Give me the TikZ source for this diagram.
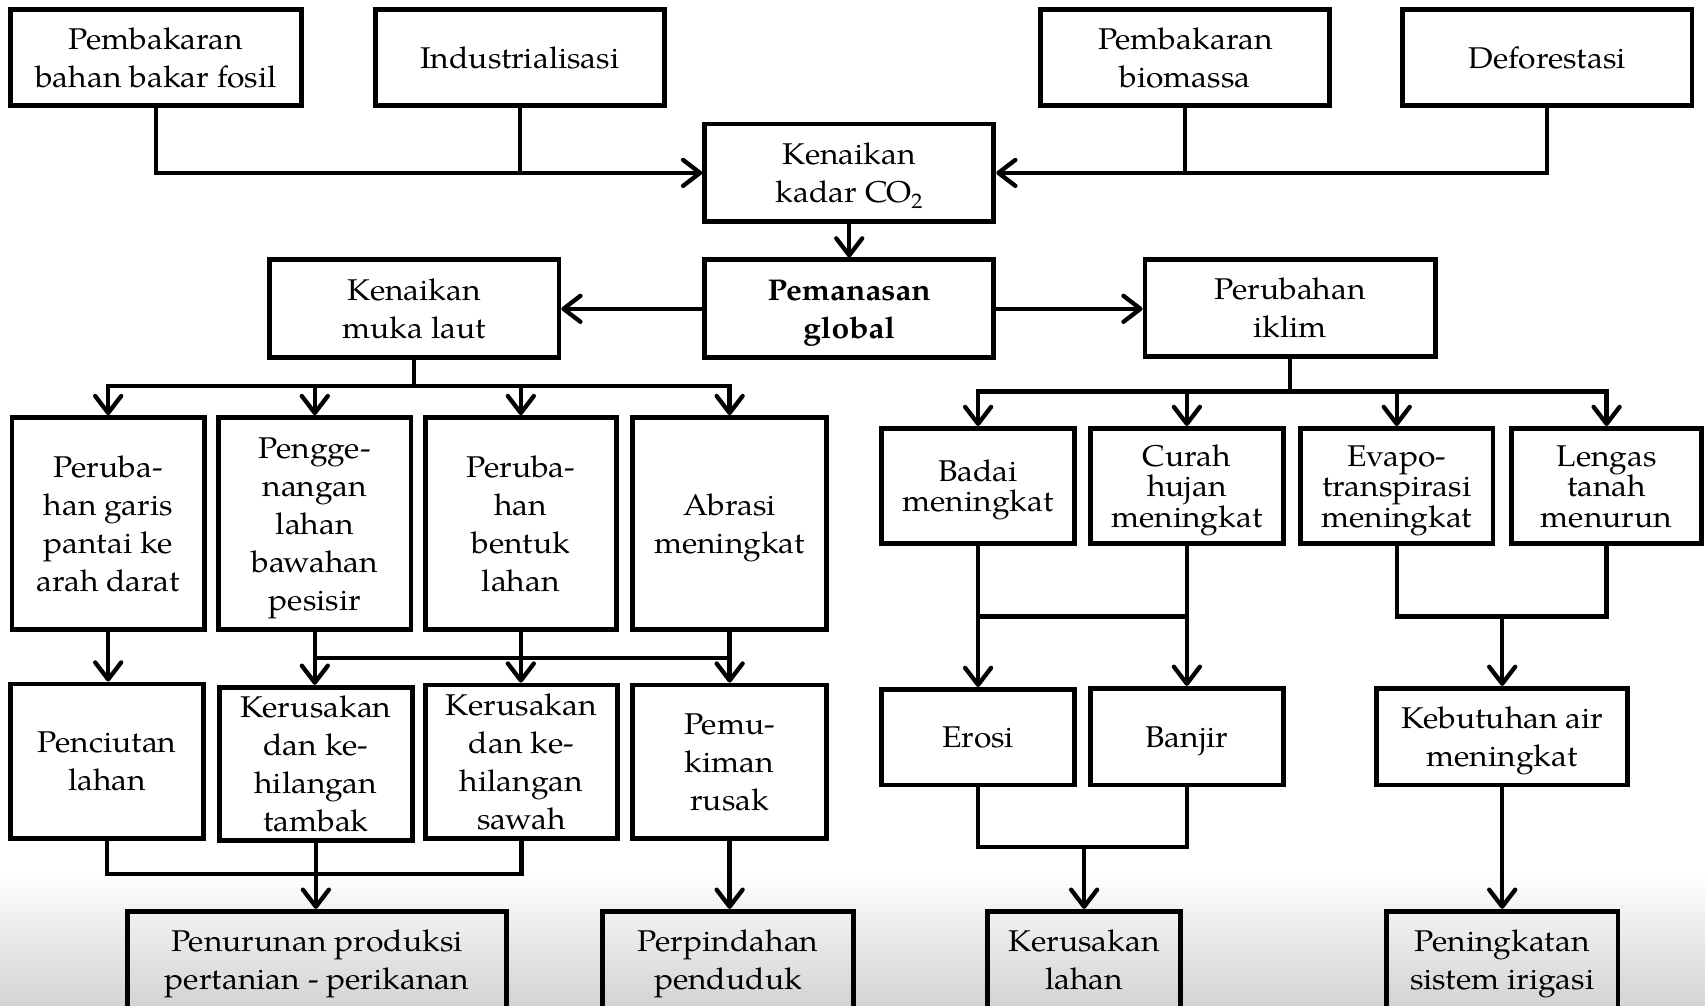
\documentclass[tikz,border=0pt]{standalone}
\usepackage{fontspec}
\setmainfont{TeX Gyre Pagella}[FakeStretch=1.06]
\usetikzlibrary{arrows.meta}
\newcommand\sttop{\rule{0pt}{29.5pt}}
\newcommand\stbot{\rule[-8.5pt]{0pt}{8.5pt}}
\newcommand\bx[7][]{\node[box,#1,minimum width={(#5-#3)*1.0874pt},minimum height={(#6-#4)*1.0874pt}] (#2) at ({(#3+#5)/2},{(#4+#6)/2}) {\sttop#7\stbot};}
\begin{document}
\begin{tikzpicture}[x=1.0874pt,y=-1.0874pt,
  box/.style={draw, line width=4.8pt, align=center, inner sep=0pt, font=\fontsize{30}{38}\selectfont},
  tight/.style={font=\fontsize{30}{30.5}\selectfont},
  ln/.style={line width=4.3pt},
  arr/.style={ln,-{Straight Barb[length=17pt,width=26pt,round]}}]
\clip (0,0) rectangle (1568,925);
\fill[white] (0,0) rectangle (1568,925);
\shade[top color=white,bottom color=black!17] (0,800) rectangle (1568,925);
% top row
\bx{fos}{10}{9}{277}{97}{Pembakaran\\bahan bakar fosil}
\bx{ind}{345}{9}{611}{97}{Industrialisasi}
\bx{bio}{957}{9}{1223}{97}{Pembakaran\\biomassa}
\bx{def}{1290}{9}{1556}{97}{Deforestasi}
\bx{co2}{648}{114}{914}{204}{Kenaikan\\kadar CO\textsubscript{2}}
\bx[font=\fontsize{30}{38}\selectfont\bfseries]{pem}{648}{239}{914}{329}{Pemanasan\\global}
\bx{kml}{248}{239}{514}{329}{Kenaikan\\muka laut}
\bx{pi}{1053}{239}{1320}{328}{Perubahan\\iklim}
% row 3 left
\bx{pg}{11}{384}{188}{579}{Peruba-\\han garis\\pantai ke\\arah darat}
\bx{pen}{201}{384}{378}{579}{Pengge-\\nangan\\lahan\\bawahan\\pesisir}
\bx{pbl}{391}{384}{567}{579}{Peruba-\\han\\bentuk\\lahan}
\bx{abr}{582}{384}{760}{579}{Abrasi\\meningkat}
% row 4 left
\bx{pc}{10}{629}{187}{771}{Penciutan\\lahan}
\bx{kt}{202}{632}{379}{773}{Kerusakan\\dan ke-\\hilangan\\tambak}
\bx{ks}{391}{630}{568}{771}{Kerusakan\\dan ke-\\hilangan\\sawah}
\bx{pr}{582}{630}{760}{771}{Pemu-\\kiman\\rusak}
% bottom left
\bx{pp}{117}{838}{466}{928}{Penurunan produksi\\pertanian - perikanan}
\bx{ppd}{554}{838}{785}{928}{Perpindahan\\penduduk}
% right
\bx[tight]{bm}{811}{394}{988}{500}{Badai\\meningkat}
\bx[tight]{ch}{1003}{394}{1180}{500}{Curah\\hujan\\meningkat}
\bx[tight]{ev}{1196}{394}{1373}{500}{Evapo-\\transpirasi\\meningkat}
\bx[tight]{lt}{1390}{394}{1565}{500}{Lengas\\tanah\\menurun}
\bx{er}{811}{634}{988}{722}{Erosi}
\bx{bj}{1003}{633}{1180}{722}{Banjir}
\bx{kl}{908}{838}{1086}{928}{Kerusakan\\lahan}
\bx{ka}{1266}{633}{1497}{722}{Kebutuhan air\\meningkat}
\bx{psi}{1275}{838}{1488}{928}{Peningkatan\\sistem irigasi}
% connectors top
\draw[arr] (fos.south) |- (co2.west);
\draw[ln] (ind.south) -- (ind.south |- co2.west);
\draw[arr] (def.south) |- (co2.east);
\draw[ln] (bio.south) -- (bio.south |- co2.east);
\draw[arr] (co2.south) -- (pem.north);
\draw[arr] (pem.west) -- (kml.east);
\draw[arr] (pem.east) -- (pem.east -| pi.west);
% left tree
\coordinate (b1) at (381,355);
\draw[arr] (kml.south) -- (b1) -| (pg.north);
\draw[arr] (b1) -| (abr.north);
\draw[arr] (pen.north |- b1) -- (pen.north);
\draw[arr] (pbl.north |- b1) -- (pbl.north);
\coordinate (b2) at (480,605);
\draw[arr] (pg.south) -- (pg.south |- pc.north);
\draw[arr] (pen.south) -- (pen.south |- kt.north);
\draw[arr] (pbl.south) -- (pbl.south |- ks.north);
\draw[arr] (abr.south) -- (abr.south |- pr.north);
\draw[ln] (pen.south |- b2) -- (abr.south |- b2);
\coordinate (b3) at (290,804);
\draw[ln] (pc.south) |- (ks.south |- b3) -- (ks.south);
\draw[arr] (kt.south) -- (kt.south |- pp.north);
\draw[arr] (pr.south) -- (pr.south |- ppd.north);
% right tree
\coordinate (b4) at (1187,360);
\draw[arr] (pi.south) -- (pi.south |- b4) -| (bm.north);
\draw[arr] (pi.south |- b4) -| (lt.north);
\draw[arr] (ch.north |- b4) -- (ch.north);
\draw[arr] (ev.north |- b4) -- (ev.north);
\coordinate (b5) at (0,567);
\draw[arr] (bm.south) -- (er.north);
\draw[arr] (ch.south) -- (bj.north);
\draw[ln] (bm.south |- b5) -- (ch.south |- b5);
\coordinate (b6) at (0,779);
\draw[ln] (er.south) |- (bj.south |- b6) -- (bj.south);
\draw[arr] (kl.north |- b6) -- (kl.north);
\draw[ln] (ev.south) |- (lt.south |- b5) -- (lt.south);
\draw[arr] (ka.north |- b5) -- (ka.north);
\draw[arr] (ka.south) -- (ka.south |- psi.north);
\end{tikzpicture}
\end{document}
